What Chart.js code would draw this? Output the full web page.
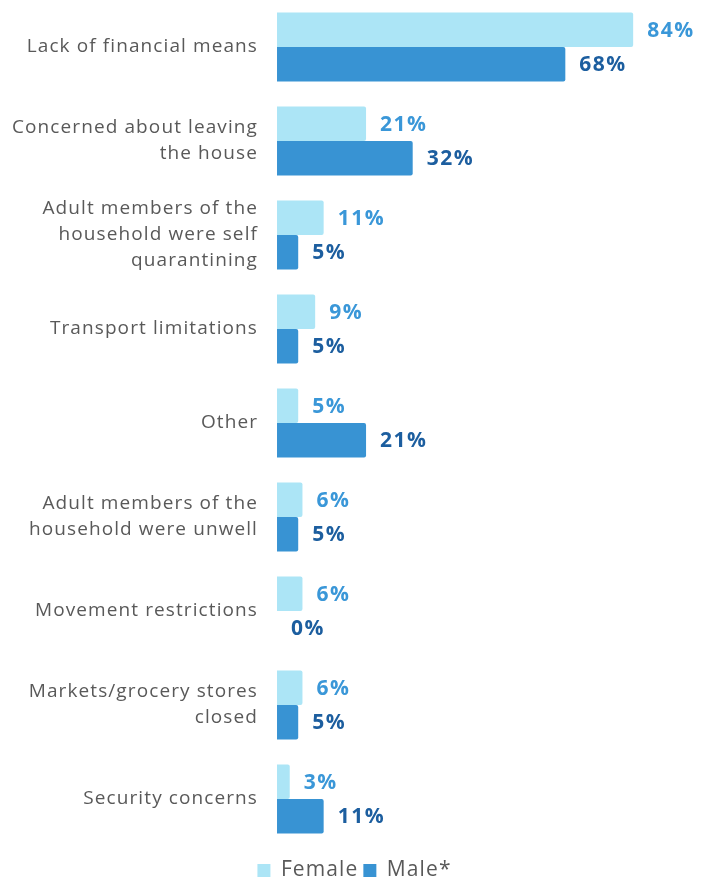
<!DOCTYPE html>
<html>
<head>
<meta charset="utf-8">
<script src="https://cdn.jsdelivr.net/npm/chart.js@4/dist/chart.umd.min.js"></script>
<style>
  html, body { margin: 0; padding: 0; background: #fff; }
  #wrap { width: 702px; height: 882px; position: relative; }
</style>
</head>
<body>
<div id="wrap"><canvas id="chart"></canvas></div>
<script>
// categories (top to bottom)
const categories = [
  'Lack of financial means',
  ['Concerned about leaving', 'the house'],
  ['Adult members of the', 'household were self', 'quarantining'],
  'Transport limitations',
  'Other',
  ['Adult members of the', 'household were unwell'],
  'Movement restrictions',
  ['Markets/grocery stores', 'closed'],
  'Security concerns'
];
const female = [84, 21, 11, 9, 5, 6, 6, 6, 3];
const male = [68, 32, 5, 5, 21, 5, 0, 5, 11];

const labelColors = ['#3a97d8', '#1c5e9f'];

// the original font is wide, so open the letters up a little
const wideText = {
  id: 'wideText',
  beforeLayout(chart) { chart.ctx.letterSpacing = '1.1px'; },
  afterLayout(chart) {
    // push legend down to the bottom edge
    chart.legend.top += 9;
    chart.legend.bottom += 9;
  },
  beforeDraw(chart) { chart.ctx.letterSpacing = '1.1px'; }
};

// draws the percent labels right of each bar
const valueLabels = {
  id: 'valueLabels',
  afterDatasetsDraw(chart) {
    const ctx = chart.ctx;
    ctx.save();
    ctx.letterSpacing = '1.5px';
    ctx.font = 'bold 21px "Open Sans"';
    ctx.textBaseline = 'middle';
    ctx.textAlign = 'left';
    chart.data.datasets.forEach((ds, i) => {
      const meta = chart.getDatasetMeta(i);
      meta.data.forEach((bar, j) => {
        ctx.fillStyle = labelColors[i];
        ctx.fillText(ds.data[j] + '%', bar.x + 14, bar.y + 1);
      });
    });
    ctx.restore();
  }
};

new Chart(document.getElementById('chart'), {
  type: 'bar',
  data: {
    labels: categories,
    datasets: [
      { label: 'Female', data: female, backgroundColor: '#ace5f6', borderRadius: 2,
        categoryPercentage: 0.735, barPercentage: 1.0 },
      { label: 'Male*', data: male, backgroundColor: '#3893d3', borderRadius: 2,
        categoryPercentage: 0.735, barPercentage: 1.0 }
    ]
  },
  options: {
    indexAxis: 'y',
    responsive: true,
    maintainAspectRatio: false,
    animation: false,
    layout: { padding: { top: 0, right: 1, left: 8, bottom: 0 } },
    scales: {
      x: { min: 0, max: 100, display: false },
      y: {
        grid: { display: false, drawTicks: false },
        border: { display: false },
        ticks: {
          color: '#595959',
          font: { family: 'Open Sans', size: 19, lineHeight: 1.37 },
          padding: 19
        },
        afterFit(scale) {
          // no extra room above/below for the edge labels, less on the left
          scale.paddingTop = 0;
          scale.paddingBottom = 0;
          scale.width -= 15;
        }
      }
    },
    plugins: {
      legend: {
        position: 'bottom',
        labels: {
          boxWidth: 13,
          boxHeight: 13,
          color: '#595959',
          font: { family: 'Open Sans', size: 21 },
          padding: 5
        }
      },
      tooltip: { enabled: false }
    }
  },
  plugins: [wideText, valueLabels]
});
</script>
</body>
</html>
